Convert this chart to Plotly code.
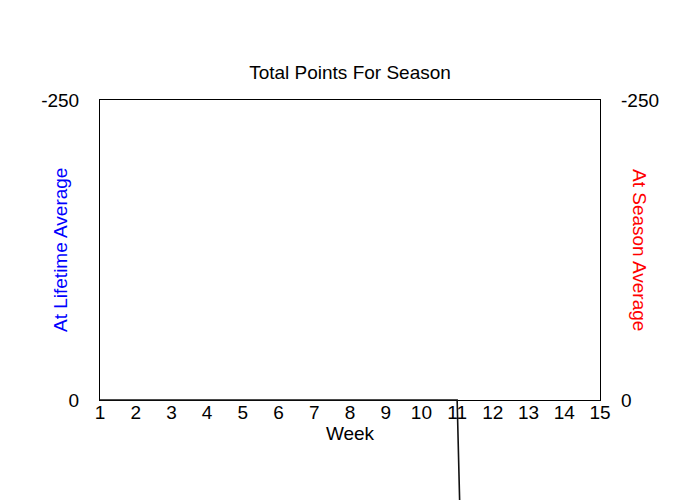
import plotly.graph_objects as go

weeks = list(range(1, 16))
line_weeks = [1, 2, 3, 4, 5, 6, 7, 8, 9, 10, 11, 12]
total_points = [0, 0, 0, 0, 0, 0, 0, 0, 0, 0, 0, 1200]
y_ticks = [-250, 0]
y_tick_text = [str(v) for v in y_ticks]

font = "Arial, Liberation Sans, sans-serif"

# plot frame sits on the upper 3/4 of the plotting region; the hidden axis
# below it lets the line run past the frame like in the original chart
frame_bottom = 0.25
y_top, y_bottom = -250, 0
y_ext_bottom = y_top + (y_bottom - y_top) / (1 - frame_bottom)

fig = go.Figure()

# empty series so both visible y axes get drawn
fig.add_trace(go.Scatter(x=[], y=[], mode="lines", xaxis="x", yaxis="y",
                         showlegend=False))
fig.add_trace(go.Scatter(x=[], y=[], mode="lines", xaxis="x", yaxis="y2",
                         showlegend=False))

fig.add_trace(go.Scatter(
    x=line_weeks, y=total_points, mode="lines",
    line=dict(color="#111111", width=1.6),
    xaxis="x", yaxis="y3", showlegend=False, hoverinfo="skip"))

# page body adds 8px around the figure, so the figure is 8px smaller
fig.update_layout(
    width=692, height=492,
    margin=dict(l=92, r=100, t=92, b=0),
    paper_bgcolor="white", plot_bgcolor="rgba(0,0,0,0)",
    font=dict(family=font, size=19, color="black"),
    showlegend=False,
    title=dict(text="Total Points For Season", x=(92 + 250) / 692,
               xanchor="center", y=1 - 64 / 492, yanchor="middle",
               font=dict(family=font, size=19, color="black")),
    xaxis=dict(
        range=[1, 15], tickvals=weeks, ticks="", showgrid=False,
        zeroline=False, showline=True, linecolor="black", linewidth=1,
        mirror=True, anchor="y", ticklabelstandoff=-5, automargin=False,
        title=dict(text="Week", standoff=0, font=dict(size=19))),
    yaxis=dict(
        domain=[frame_bottom, 1], range=[y_bottom, y_top], tickvals=y_ticks,
        ticktext=y_tick_text, ticks="", showgrid=False, zeroline=False,
        showline=True, linecolor="black", linewidth=1, mirror=True,
        ticklabelstandoff=16, automargin=False),
    yaxis2=dict(
        overlaying="y", side="right", range=[y_bottom, y_top],
        tickvals=y_ticks, ticktext=y_tick_text, ticks="", showgrid=False,
        zeroline=False, showline=False, ticklabelstandoff=20,
        automargin=False),
    yaxis3=dict(
        domain=[0, 1], range=[y_ext_bottom, y_top], visible=False,
        anchor="x", showgrid=False, zeroline=False, automargin=False),
    annotations=[
        dict(text="At Lifetime Average", xref="paper", yref="paper",
             x=-0.08, y=0.625, xanchor="center", yanchor="middle",
             textangle=-90, showarrow=False,
             font=dict(family=font, size=19, color="#0000ff")),
        dict(text="At Season Average", xref="paper", yref="paper",
             x=1.08, y=0.625, xanchor="center", yanchor="middle",
             textangle=90, showarrow=False,
             font=dict(family=font, size=19, color="#ff0000")),
    ],
)

fig.write_html("out.html")
